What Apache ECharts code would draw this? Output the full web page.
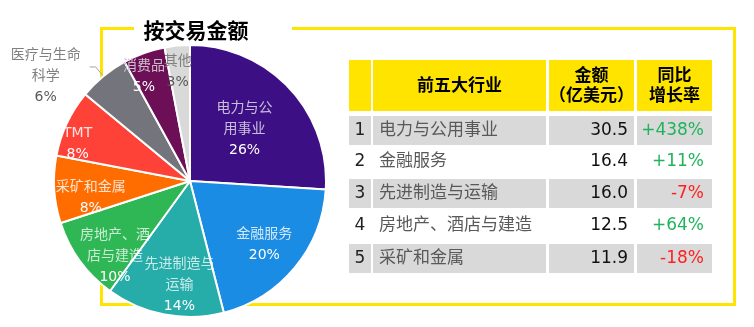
<!DOCTYPE html>
<html>
<head>
<meta charset="utf-8">
<script src="https://cdn.jsdelivr.net/npm/echarts@6/dist/echarts.min.js"></script>
<style>
  html, body { margin: 0; padding: 0; background: #fff; }
  #chart { width: 754px; height: 327px; }
</style>
</head>
<body>
<div id="chart"></div>
<script>
// pie: share of deal value by industry (%)
const industries = ['电力与公用事业', '金融服务', '先进制造与运输', '房地产、酒店与建造', '采矿和金属', 'TMT', '医疗与生命科学', '消费品', '其他'];
const sliceLabels = ['电力与公\n用事业', '金融服务', '先进制造与\n运输', '房地产、酒\n店与建造', '采矿和金属', 'TMT', '医疗与生命\n科学', '消费品', '其他'];
const shares = [26, 20, 14, 10, 8, 8, 6, 5, 3];

// table: top five industries
const headers = ['', '前五大行业', '金额\n（亿美元）', '同比\n增长率'];
const ranks = ['1', '2', '3', '4', '5'];
const topIndustries = ['电力与公用事业', '金融服务', '先进制造与运输', '房地产、酒店与建造', '采矿和金属'];
const amounts = ['30.5', '16.4', '16.0', '12.5', '11.9'];
const growth = ['+438%', '+11%', '-7%', '+64%', '-18%'];

const sliceColors = ['#3d0f84', '#1b8ce3', '#27ada9', '#2fb655', '#ff6d00', '#ff4238', '#74747c', '#6d0f57', '#d9d9d9'];
// label placement: fraction of radius and angle shift (deg) from the slice middle
const labelRadius = [0.55, 0.72, 0.77, 0.78, 0.74, 0.87, null, 0.84, 0.81];
const labelShift = [0, 1, -5, -9, -6, -7, 0, -4, -1];
const nameColors = ['rgba(255,255,255,0.72)', 'rgba(255,255,255,0.8)', 'rgba(255,255,255,0.75)', 'rgba(255,255,255,0.75)', 'rgba(255,255,255,0.8)', 'rgba(255,255,255,0.85)', '#808080', '#c8c0c8', '#808080'];
const pctColors = ['#fff', '#fff', '#fff', '#fff', '#fff', '#fff', '#595959', '#fff', '#595959'];

const FONT = '"DejaVu Sans", "Noto Sans CJK SC", sans-serif';
const pieCenter = [190, 181];
const pieRadius = 136;
const yellow = '#ffe400';

const chart = echarts.init(document.getElementById('chart'));

// table geometry
const colX = [349, 373, 549, 637];
const colW = [22, 173, 85, 75];
const rowTop = [116, 147.5, 179, 211, 244];
const rowH = 29;

const graphics = [];

// yellow frame
graphics.push(
  { type: 'polyline', z: 0, shape: { points: [[134, 28.5], [101.5, 28.5], [101.5, 304.5], [734.5, 304.5], [734.5, 28.5], [292, 28.5]] },
    style: { stroke: yellow, lineWidth: 3, fill: null } },
  { type: 'text', z: 5, style: { text: '按交易金额', x: 196, y: 33, textAlign: 'center', textVerticalAlign: 'middle',
    fill: '#000', font: 'bold 21px ' + FONT } }
);

// header
headers.forEach((h, i) => {
  graphics.push({ type: 'rect', z: 1, shape: { x: colX[i], y: 60, width: colW[i], height: 51 }, style: { fill: yellow } });
  if (h) {
    graphics.push({ type: 'text', z: 2, style: { text: h, x: colX[i] + colW[i] / 2, y: 86.5, textAlign: 'center', textVerticalAlign: 'middle',
      fill: '#000', font: 'bold 17px ' + FONT, lineHeight: 20 } });
  }
});

// rows
ranks.forEach((r, i) => {
  const y = rowTop[i];
  const shaded = i % 2 === 0;
  if (shaded) {
    colX.forEach((x, c) => {
      graphics.push({ type: 'rect', z: 1, shape: { x: x, y: y, width: colW[c], height: rowH }, style: { fill: '#d9d9d9' } });
    });
  }
  const cy = y + rowH / 2;
  const neg = growth[i].charAt(0) === '-';
  graphics.push(
    { type: 'text', z: 2, style: { text: r, x: colX[0] + colW[0] / 2, y: cy, textAlign: 'center', textVerticalAlign: 'middle', fill: '#222', font: '17px ' + FONT } },
    { type: 'text', z: 2, style: { text: topIndustries[i], x: colX[1] + 6, y: cy, textAlign: 'left', textVerticalAlign: 'middle', fill: '#595959', font: '17px ' + FONT } },
    { type: 'text', z: 2, style: { text: amounts[i], x: colX[2] + colW[2] - 6, y: cy, textAlign: 'right', textVerticalAlign: 'middle', fill: '#111', font: '17px ' + FONT } },
    { type: 'text', z: 2, style: { text: growth[i], x: colX[3] + colW[3] - 8, y: cy, textAlign: 'right', textVerticalAlign: 'middle', fill: neg ? '#ff2121' : '#1fb45c', font: '17px ' + FONT } }
  );
});

const pieData = industries.map((name, i) => {
  const item = {
    name: name,
    value: shares[i],
    itemStyle: { color: sliceColors[i] },
    label: {
      rich: {
        n: { color: nameColors[i], fontSize: 14, lineHeight: 21, fontFamily: FONT, align: 'center' },
        p: { color: pctColors[i], fontSize: 14, lineHeight: 21, fontFamily: FONT, align: 'center' }
      }
    }
  };
  if (labelRadius[i] == null) {
    item.label.position = 'outside';
    item.labelLine = { show: true, length: 12, length2: 6, lineStyle: { color: '#a6a6a6', width: 1 } };
  }
  return item;
});

// middle angle of each slice, clockwise from 12 o'clock
const total = shares.reduce((a, b) => a + b, 0);
let acc = 0;
const midAngles = shares.map(v => { const m = (acc + v / 2) / total * 360; acc += v; return m; });

const option = {
  animation: false,
  graphic: graphics,
  series: [
    {
      type: 'pie',
      z: 3,
      center: pieCenter,
      radius: pieRadius,
      startAngle: 90,
      clockwise: true,
      avoidLabelOverlap: false,
      itemStyle: { borderColor: '#fff', borderWidth: 2 },
      label: {
        show: true,
        position: 'inside',
        formatter: function (p) {
          const lines = sliceLabels[p.dataIndex].split('\n').map(s => '{n|' + s + '}');
          return lines.join('\n') + '\n{p|' + p.value + '%}';
        }
      },
      labelLine: { show: false },
      labelLayout: function (params) {
        const i = params.dataIndex;
        const f = labelRadius[i];
        if (f == null) return { dy: 9, dx: -4 };
        const r = params.labelRect;
        const cx = r.x + r.width / 2;
        const cy = r.y + r.height / 2;
        const a = (midAngles[i] + labelShift[i]) * Math.PI / 180;
        const tx = pieCenter[0] + f * pieRadius * Math.sin(a);
        const ty = pieCenter[1] - f * pieRadius * Math.cos(a);
        return { dx: tx - cx, dy: ty - cy };
      },
      data: pieData
    }
  ]
};

chart.setOption(option);

window.addEventListener('resize', function () {
  chart.resize();
});
</script>
</body>
</html>
